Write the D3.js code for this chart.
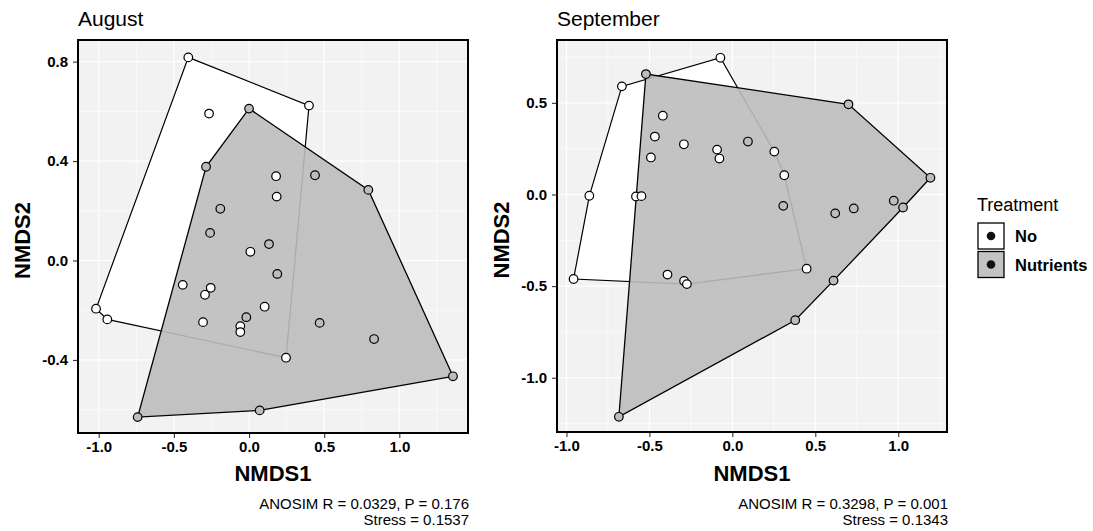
<!DOCTYPE html>
<html>
<head>
<meta charset="utf-8">
<script src="https://cdn.jsdelivr.net/npm/d3@7"></script>
<style>
  body { margin: 0; background: #fff; }
  svg { font-family: "Liberation Sans", Arial, sans-serif; }
</style>
</head>
<body>
<svg width="1093" height="531"></svg>
<script>
// August ordination scores
var augNo = [
  [-0.404, 0.817], [0.399, 0.623], [-0.266, 0.591], [0.180, 0.339], [0.184, 0.257],
  [0.009, 0.035], [-0.441, -0.098], [-0.255, -0.110], [-0.293, -0.138], [-1.018, -0.194],
  [-0.943, -0.237], [0.104, -0.186], [-0.306, -0.248], [-0.058, -0.264], [-0.058, -0.288],
  [0.246, -0.391]
];
var augNut = [
  [0.000, 0.611], [-0.286, 0.377], [0.439, 0.343], [0.794, 0.284], [-0.191, 0.208],
  [-0.259, 0.111], [0.133, 0.066], [0.188, -0.054], [-0.018, -0.228], [0.470, -0.251],
  [0.832, -0.316], [1.357, -0.466], [0.071, -0.603], [-0.741, -0.630]
];
// September
var sepNo = [
  [-0.072, 0.746], [-0.666, 0.590], [-0.419, 0.430], [-0.467, 0.316], [-0.292, 0.274],
  [-0.491, 0.202], [-0.092, 0.245], [-0.078, 0.196], [0.253, 0.234], [0.313, 0.105],
  [-0.862, -0.007], [-0.581, -0.011], [-0.548, -0.009], [-0.957, -0.461], [-0.391, -0.437],
  [-0.291, -0.472], [-0.274, -0.489], [0.448, -0.405]
];
var sepNut = [
  [-0.521, 0.657], [0.700, 0.492], [0.094, 0.289], [1.194, 0.091], [0.307, -0.062],
  [0.620, -0.103], [0.732, -0.076], [0.973, -0.034], [1.029, -0.071], [0.610, -0.470],
  [0.379, -0.686], [-0.684, -1.213]
];

var xTicks = [-1.0, -0.5, 0.0, 0.5, 1.0];
var augYTicks = [-0.4, 0.0, 0.4, 0.8];
var sepYTicks = [-1.0, -0.5, 0.0, 0.5];
var treatments = ["No", "Nutrients"];

var panels = [
  { title: "August", no: augNo, nut: augNut, yTicks: augYTicks,
    xdom: [-1.138, 1.457], ydom: [-0.694, 0.887],
    left: 78, right: 468, top: 40, bottom: 433,
    anosim: "ANOSIM R = 0.0329, P = 0.176", stress: "Stress = 0.1537" },
  { title: "September", no: sepNo, nut: sepNut, yTicks: sepYTicks,
    xdom: [-1.057, 1.294], ydom: [-1.296, 0.843],
    left: 557, right: 947, top: 40, bottom: 432,
    anosim: "ANOSIM R = 0.3298, P = 0.001", stress: "Stress = 0.1343" }
];

var fillCol = { No: "#ffffff", Nutrients: "#bdbdbd" };
var svg = d3.select("svg");
var fmt = function(d) { return d.toFixed(1); };

// midpoints between major ticks for the minor grid
function minors(ticks, dom) {
  var step = ticks[1] - ticks[0], out = [];
  for (var v = ticks[0] - step / 2; v <= dom[1]; v += step) {
    if (v >= dom[0]) out.push(+v.toFixed(3));
  }
  return out;
}

panels.forEach(function(p) {
  var x = d3.scaleLinear().domain(p.xdom).range([p.left, p.right]);
  var y = d3.scaleLinear().domain(p.ydom).range([p.bottom, p.top]);
  var g = svg.append("g");

  g.append("rect")
    .attr("x", p.left).attr("y", p.top)
    .attr("width", p.right - p.left).attr("height", p.bottom - p.top)
    .attr("fill", "#f2f2f2");

  // grid
  var grid = g.append("g");
  grid.selectAll(".vmin").data(minors(xTicks, p.xdom)).enter().append("line")
    .attr("x1", x).attr("x2", x).attr("y1", p.top).attr("y2", p.bottom)
    .attr("stroke", "#fff").attr("stroke-width", 0.6);
  grid.selectAll(".hmin").data(minors(p.yTicks, p.ydom)).enter().append("line")
    .attr("y1", y).attr("y2", y).attr("x1", p.left).attr("x2", p.right)
    .attr("stroke", "#fff").attr("stroke-width", 0.6);
  grid.selectAll(".vmaj").data(xTicks).enter().append("line")
    .attr("x1", x).attr("x2", x).attr("y1", p.top).attr("y2", p.bottom)
    .attr("stroke", "#fff").attr("stroke-width", 1.2);
  grid.selectAll(".hmaj").data(p.yTicks).enter().append("line")
    .attr("y1", y).attr("y2", y).attr("x1", p.left).attr("x2", p.right)
    .attr("stroke", "#fff").attr("stroke-width", 1.2);

  var line = d3.line().x(function(d) { return x(d[0]); }).y(function(d) { return y(d[1]); })
    .curve(d3.curveLinearClosed);

  g.append("path").datum(d3.polygonHull(p.no))
    .attr("d", line).attr("fill", "#fff").attr("stroke", "#000").attr("stroke-width", 1.2);
  g.append("path").datum(d3.polygonHull(p.nut))
    .attr("d", line).attr("fill", "#bcbcbc").attr("fill-opacity", 0.9)
    .attr("stroke", "#000").attr("stroke-width", 1.3);

  var pts = p.no.map(function(d) { return { v: d, t: "No" }; })
    .concat(p.nut.map(function(d) { return { v: d, t: "Nutrients" }; }));
  g.selectAll("circle.pt").data(pts).enter().append("circle")
    .attr("cx", function(d) { return x(d.v[0]); })
    .attr("cy", function(d) { return y(d.v[1]); })
    .attr("r", 4.3)
    .attr("fill", function(d) { return fillCol[d.t]; })
    .attr("stroke", "#000").attr("stroke-width", 1.2);

  g.append("rect")
    .attr("x", p.left).attr("y", p.top)
    .attr("width", p.right - p.left).attr("height", p.bottom - p.top)
    .attr("fill", "none").attr("stroke", "#000").attr("stroke-width", 2);

  // axes
  var xa = g.append("g").attr("transform", "translate(0," + (p.bottom + 1) + ")")
    .call(d3.axisBottom(x).tickValues(xTicks).tickFormat(fmt).tickSizeOuter(0).tickSize(4).tickPadding(3));
  var ya = g.append("g").attr("transform", "translate(" + (p.left - 1) + ",0)")
    .call(d3.axisLeft(y).tickValues(p.yTicks).tickFormat(fmt).tickSizeOuter(0).tickSize(4).tickPadding(5));
  [xa, ya].forEach(function(a) {
    a.select(".domain").remove();
    a.selectAll(".tick line").attr("stroke", "#333").attr("stroke-width", 1.1);
    a.selectAll(".tick text").attr("fill", "#000").style("font-size", "15px")
      .style("font-weight", "bold").style("font-family", "Liberation Sans, Arial, sans-serif");
  });

  g.append("text").attr("x", p.left).attr("y", 26)
    .style("font-size", "21px").text(p.title);
  g.append("text").attr("x", (p.left + p.right) / 2).attr("y", 481)
    .attr("text-anchor", "middle").style("font-size", "22px").style("font-weight", "bold")
    .text("NMDS1");
  g.append("text")
    .attr("transform", "translate(" + (p.left - 48) + "," + ((p.top + p.bottom) / 2 + 4) + ") rotate(-90)")
    .attr("text-anchor", "middle").style("font-size", "22px").style("font-weight", "bold")
    .text("NMDS2");
  g.append("text").attr("x", p.right + 1).attr("y", 509).attr("text-anchor", "end")
    .style("font-size", "15px").text(p.anosim);
  g.append("text").attr("x", p.right + 1).attr("y", 525).attr("text-anchor", "end")
    .style("font-size", "15px").text(p.stress);
});

// legend
var leg = svg.append("g");
leg.append("text").attr("x", 977).attr("y", 211).style("font-size", "18px").text("Treatment");
var key = leg.selectAll("g.key").data(treatments).enter().append("g")
  .attr("transform", function(d, i) { return "translate(978," + (223 + i * 28.5) + ")"; });
key.append("rect").attr("width", 26).attr("height", 26)
  .attr("fill", function(d) { return d === "No" ? "#fff" : "#c3c3c3"; })
  .attr("stroke", "#000").attr("stroke-width", 1.3);
key.append("circle").attr("cx", 13).attr("cy", 13).attr("r", 4.3).attr("fill", "#111");
key.append("text").attr("x", 37).attr("y", 19).style("font-size", "16.5px")
  .style("font-weight", "bold").text(function(d) { return d; });
</script>
</body>
</html>
